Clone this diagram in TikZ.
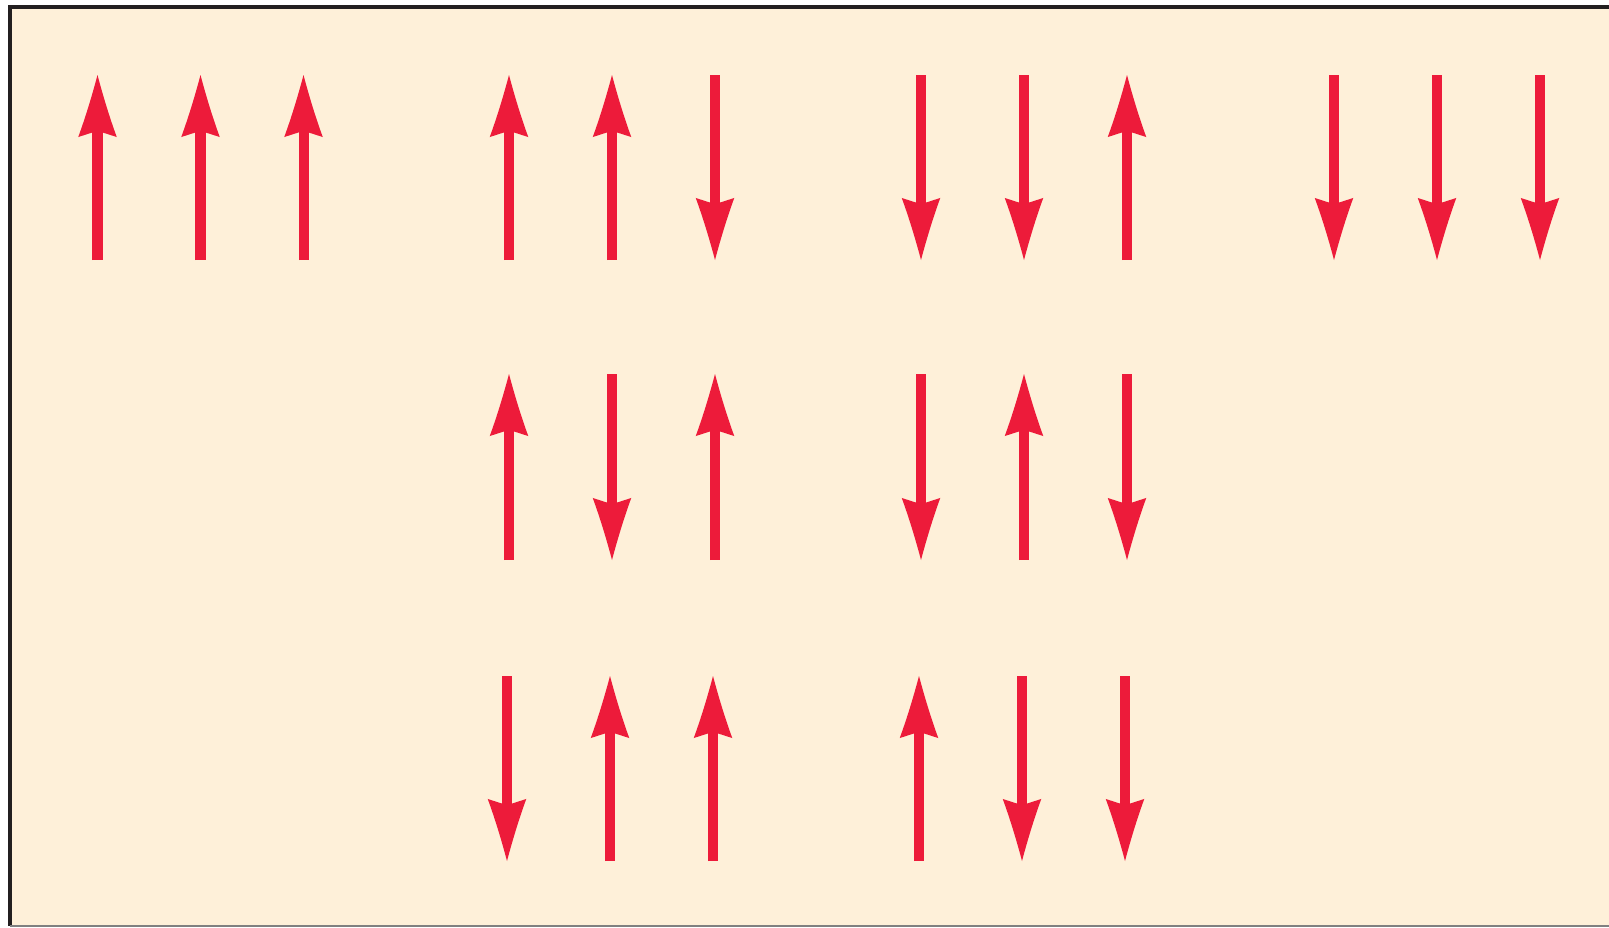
\documentclass[tikz,border=0pt]{standalone}
\usepackage{tikz}
\usetikzlibrary{arrows.meta}
\usepackage{xcolor}
\definecolor{spinred}{RGB}{237,27,58}
\definecolor{softcream}{RGB}{254,240,217}
\definecolor{framegray}{RGB}{35,31,32}
% arrow head with slightly hollow flanks and notched back
\pgfdeclarearrow{
  name = SpinTip,
  parameters = {\the\pgfarrowlength,\the\pgfarrowwidth},
  setup code = {
    \pgfarrowssettipend{0pt}
    \pgfarrowssetlineend{-0.8\pgfarrowlength}
    \pgfarrowssetbackend{-\pgfarrowlength}
    \pgfarrowssavethe\pgfarrowlength
    \pgfarrowssavethe\pgfarrowwidth
  },
  drawing code = {
    \pgfpathmoveto{\pgfqpoint{0pt}{0pt}}
    \pgfpathquadraticcurveto{\pgfpoint{-0.55\pgfarrowlength}{0.235\pgfarrowwidth}}{\pgfpoint{-\pgfarrowlength}{0.5\pgfarrowwidth}}
    \pgfpathlineto{\pgfpoint{-0.9\pgfarrowlength}{0pt}}
    \pgfpathlineto{\pgfpoint{-\pgfarrowlength}{-0.5\pgfarrowwidth}}
    \pgfpathquadraticcurveto{\pgfpoint{-0.55\pgfarrowlength}{-0.235\pgfarrowwidth}}{\pgfqpoint{0pt}{0pt}}
    \pgfpathclose
    \pgfusepathqfill
  },
  defaults = {length=6.2mm, width=3.85mm}
}
\tikzset{
  spinarrow/.style={-{SpinTip}, line width=1mm, spinred},
  frameline/.style={line width=0.45mm, framegray},
}

\begin{document}
\begin{tikzpicture}[x=0.01cm, y=-0.01cm]
\useasboundingbox (0,0) rectangle (1609,927);
\fill[softcream] (10,7) rectangle (1609,926);
\draw[frameline] (10,926) -- (10,7) -- (1609,7);
\draw[gray, line width=0.2mm] (10,926) -- (1609,926);

% first row
\foreach \x in {97.5, 200.5, 303.5, 509, 612, 1127}
  \draw[spinarrow] (\x,260) -- (\x,75);
\foreach \x in {715, 921, 1024, 1334, 1437, 1540}
  \draw[spinarrow] (\x,75) -- (\x,260);

% second row
\foreach \x in {509, 715, 1024}
  \draw[spinarrow] (\x,560) -- (\x,374);
\foreach \x in {612, 921, 1127}
  \draw[spinarrow] (\x,374) -- (\x,560);

% third row
\foreach \x in {610, 713, 919}
  \draw[spinarrow] (\x,861) -- (\x,676);
\foreach \x in {507, 1022, 1125}
  \draw[spinarrow] (\x,676) -- (\x,861);
\end{tikzpicture}
\end{document}
